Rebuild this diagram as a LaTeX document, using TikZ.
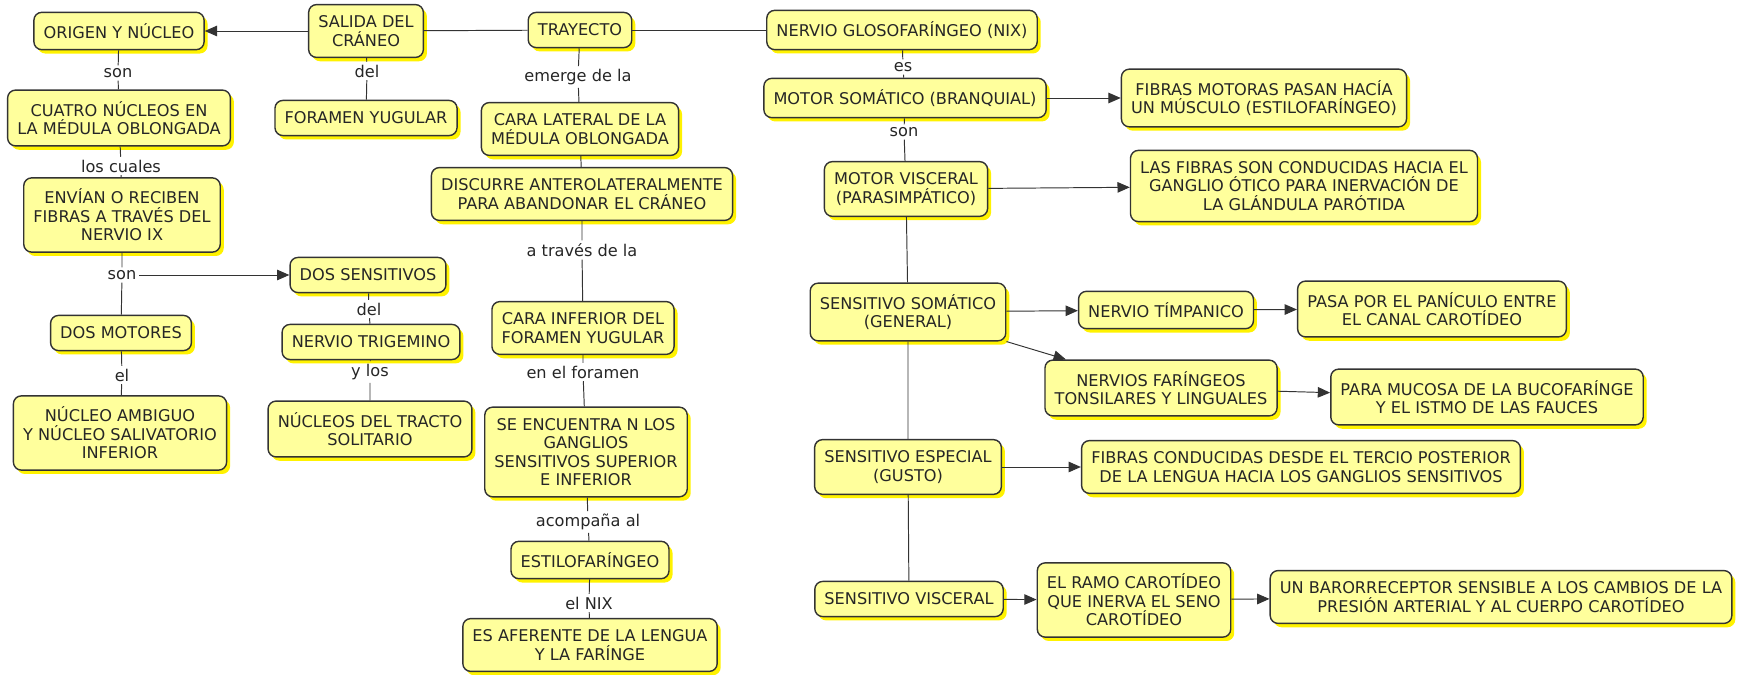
\documentclass[tikz,border=0pt]{standalone}
\usepackage{fontspec}
\setmainfont{DejaVu Sans}
\usepackage{tikz}
\usetikzlibrary{arrows.meta,shadows}

\definecolor{cmapfill}{HTML}{FFFF9C}
\definecolor{cmapshadow}{HTML}{FFF200}
\definecolor{cmapline}{HTML}{333333}

\begin{document}
\begin{tikzpicture}[x=0.02cm,y=-0.02cm,
  concept/.style={draw=cmapline,line width=0.8pt,rounded corners=4.5pt,fill=cmapfill,
    drop shadow={shadow xshift=2pt,shadow yshift=-2.2pt,fill=cmapshadow,opacity=1},
    align=center,inner xsep=5.5pt,inner ysep=6.3pt,minimum height=20pt,
    font=\fontsize{9.2}{10.5}\selectfont,text=black!85},
  linkword/.style={inner sep=1.5pt,font=\fontsize{9.2}{10.5}\selectfont,text=black!85},
  tie/.style={draw=cmapline,line width=0.55pt},
  >={Triangle[length=7pt,width=6pt]}]
\useasboundingbox (0,0) rectangle (1749,675);

% left: origen y nucleo
\node [concept] (origen) at (119,31) {ORIGEN Y NÚCLEO};
\node [linkword] (sonA) at (118,73) {son};
\node [concept] (cuatro) at (119,118) {CUATRO NÚCLEOS EN\\LA MÉDULA OBLONGADA};
\node [linkword] (cuales) at (121,166) {los cuales};
\node [concept] (envian) at (122,215) {ENVÍAN O RECIBEN\\FIBRAS A TRAVÉS DEL\\NERVIO IX};
\node [linkword] (sonB) at (122,275) {son};
\node [concept] (motores) at (121,333) {DOS MOTORES};
\node [linkword] (el) at (122,375) {el};
\node [concept] (ambiguo) at (120,433) {NÚCLEO AMBIGUO\\Y NÚCLEO SALIVATORIO\\INFERIOR};
\node [concept] (sensitivos) at (368,275) {DOS SENSITIVOS};
\node [linkword] (delB) at (369,309) {del};
\node [concept] (trigemino) at (371,342) {NERVIO TRIGEMINO};
\node [linkword] (ylos) at (370,372) {y los};
\node [concept] (tracto) at (370,429) {NÚCLEOS DEL TRACTO\\SOLITARIO};

% salida del craneo
\node [concept] (salida) at (366,31) {SALIDA DEL\\CRÁNEO};
\node [linkword] (delA) at (367,71) {del};
\node [concept] (foramen) at (366,118) {FORAMEN YUGULAR};

% trayecto
\node [concept] (trayecto) at (580,30) {TRAYECTO};
\node [linkword] (emerge) at (578,77) {emerge de la};
\node [concept] (lateral) at (580,129) {CARA LATERAL DE LA\\MÉDULA OBLONGADA};
\node [concept] (discurre) at (582,194) {DISCURRE ANTEROLATERALMENTE\\PARA ABANDONAR EL CRÁNEO};
\node [linkword] (traves) at (582,250) {a través de la};
\node [concept] (inferior) at (583,328) {CARA INFERIOR DEL\\FORAMEN YUGULAR};
\node [linkword] (enforamen) at (583,372) {en el foramen};
\node [concept] (ganglios) at (586,452) {SE ENCUENTRA N LOS\\GANGLIOS\\SENSITIVOS SUPERIOR\\E INFERIOR};
\node [linkword] (acompana) at (588,522) {acompaña al};
\node [concept] (estilo) at (590,560) {ESTILOFARÍNGEO};
\node [linkword] (nix) at (589,603) {el NIX};
\node [concept] (aferente) at (590,645) {ES AFERENTE DE LA LENGUA\\Y LA FARÍNGE};

% nervio glosofaringeo
\node [concept] (glosof) at (902,30) {NERVIO GLOSOFARÍNGEO (NIX)};
\node [linkword] (es) at (903,67) {es};
\node [concept] (somatico) at (905,98) {MOTOR SOMÁTICO (BRANQUIAL)};
\node [concept] (fibmot) at (1264,98) {FIBRAS MOTORAS PASAN HACÍA\\UN MÚSCULO (ESTILOFARÍNGEO)};
\node [linkword] (sonC) at (904,132) {son};
\node [concept] (visceral) at (906,189) {MOTOR VISCERAL\\(PARASIMPÁTICO)};
\node [concept] (otico) at (1304,186) {LAS FIBRAS SON CONDUCIDAS HACIA EL\\GANGLIO ÓTICO PARA INERVACIÓN DE\\LA GLÁNDULA PARÓTIDA};
\node [concept] (sensom) at (908,312) {SENSITIVO SOMÁTICO\\(GENERAL)};
\node [concept] (timpanico) at (1166,310) {NERVIO TÍMPANICO};
\node [concept] (paniculo) at (1432,309) {PASA POR EL PANÍCULO ENTRE\\EL CANAL CAROTÍDEO};
\node [concept] (faringeos) at (1161,388) {NERVIOS FARÍNGEOS\\TONSILARES Y LINGUALES};
\node [concept] (mucosa) at (1487,397) {PARA MUCOSA DE LA BUCOFARÍNGE\\Y EL ISTMO DE LAS FAUCES};
\node [concept] (especial) at (908,467) {SENSITIVO ESPECIAL\\(GUSTO)};
\node [concept] (tercio) at (1301,467) {FIBRAS CONDUCIDAS DESDE EL TERCIO POSTERIOR\\DE LA LENGUA HACIA LOS GANGLIOS SENSITIVOS};
\node [concept] (senvisc) at (909,599) {SENSITIVO VISCERAL};
\node [concept] (ramo) at (1134,600) {EL RAMO CAROTÍDEO\\QUE INERVA EL SENO\\CAROTÍDEO};
\node [concept] (baro) at (1501,597) {UN BARORRECEPTOR SENSIBLE A LOS CAMBIOS DE LA\\PRESIÓN ARTERIAL Y AL CUERPO CAROTÍDEO};

% links
\draw [tie] (origen) -- (sonA) -- (cuatro) -- (cuales) -- (envian) -- (sonB) -- (motores) -- (el) -- (ambiguo);
\draw [tie,->] (sonB) -- (sensitivos);
\draw [tie] (sensitivos) -- (delB) -- (trigemino) -- (ylos) -- (tracto);
\draw [tie] (salida) -- (delA) -- (foramen);
\draw [tie,->] (salida) -- (origen);
\draw [tie] (trayecto) -- (salida);
\draw [tie] (trayecto) -- (glosof);
\draw [tie] (trayecto) -- (emerge) -- (lateral) -- (discurre) -- (traves) -- (inferior) -- (enforamen) -- (ganglios) -- (acompana) -- (estilo) -- (nix) -- (aferente);
\draw [tie] (glosof) -- (es) -- (somatico) -- (sonC) -- (visceral) -- (sensom) -- (especial) -- (senvisc);
\draw [tie,->] (somatico) -- (fibmot);
\draw [tie,->] (visceral) -- (otico);
\draw [tie,->] (sensom) -- (timpanico);
\draw [tie,->] (timpanico) -- (paniculo);
\draw [tie,->] (sensom.south east) -- (faringeos);
\draw [tie,->] (faringeos) -- (mucosa);
\draw [tie,->] (especial) -- (tercio);
\draw [tie,->] (senvisc) -- (ramo);
\draw [tie,->] (ramo) -- (baro);
\end{tikzpicture}
\end{document}
